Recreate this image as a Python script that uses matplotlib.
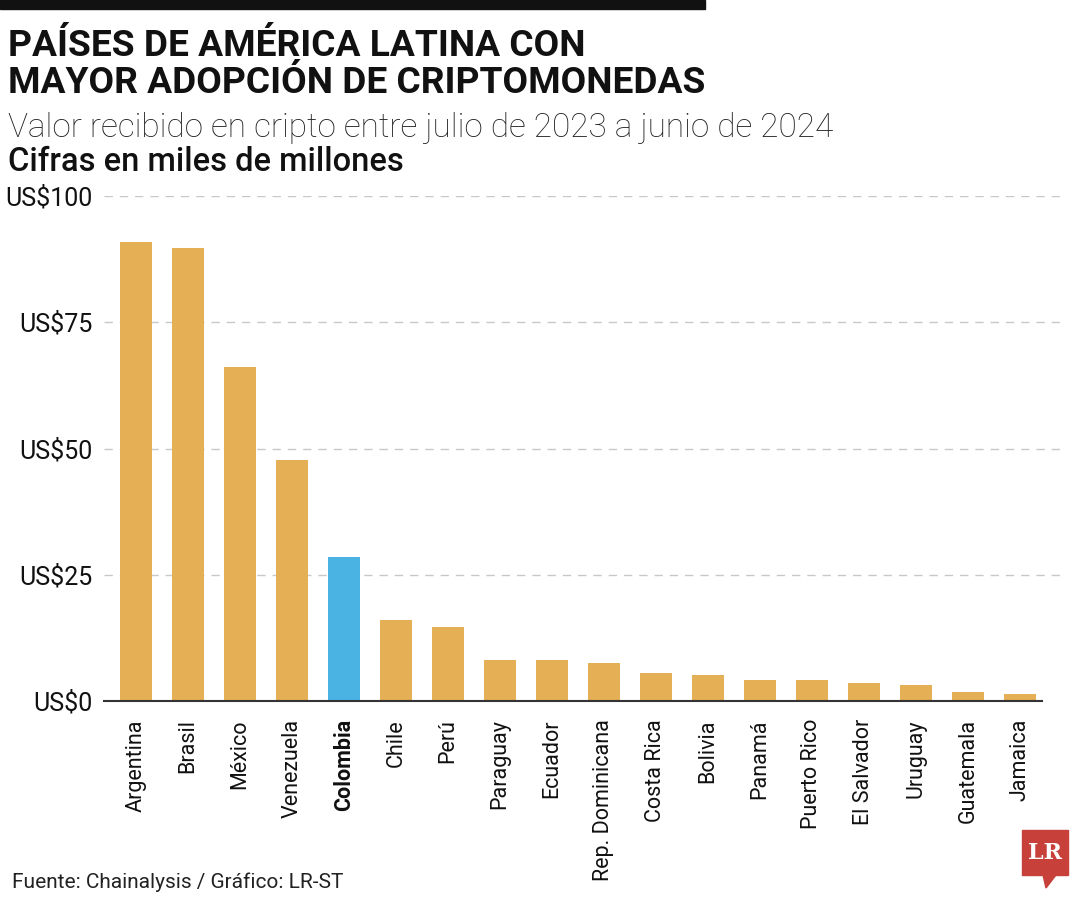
import matplotlib.pyplot as plt
from matplotlib.patches import Rectangle, Polygon

paises = ['Argentina', 'Brasil', 'México', 'Venezuela', 'Colombia', 'Chile', 'Perú',
          'Paraguay', 'Ecuador', 'Rep. Dominicana', 'Costa Rica', 'Bolivia', 'Panamá',
          'Puerto Rico', 'El Salvador', 'Uruguay', 'Guatemala', 'Jamaica']
valores = [90.8, 89.8, 66.1, 47.8, 28.6, 16.1, 14.7, 8.1, 8.1, 7.6, 5.6, 5.1, 4.2,
           4.2, 3.6, 3.2, 1.8, 1.4]
destacado = 'Colombia'
ticks = [0, 25, 50, 75, 100]
tick_labels = ['US$0', 'US$25', 'US$50', 'US$75', 'US$100']

plt.rcParams['font.family'] = ['Roboto', 'DejaVu Sans']

oro = '#E5AF55'
azul = '#4BB3E3'

fig = plt.figure(figsize=(10.8, 9), dpi=100)
ax = fig.add_axes([104 / 1080, 1 - 701 / 900, (1065 - 104) / 1080, (701 - 196) / 900])

x = list(range(len(paises)))
colores = [azul if p == destacado else oro for p in paises]
ax.bar(x, valores, width=0.62, color=colores, zorder=3)

ax.set_xlim(-0.62, 17.87)
ax.set_ylim(0, 100)
for t in ticks[1:]:
    ax.axhline(t, color='#c8c8c8', lw=1, ls=(0, (6, 5)), zorder=1)
ax.plot([-0.62, 17.42], [0, 0], color='#333333', lw=1.5, zorder=4, clip_on=False)

for s in ax.spines.values():
    s.set_visible(False)
ax.set_yticks(ticks)
ax.set_yticklabels(tick_labels, fontsize=18, color='#111111')
ax.tick_params(axis='y', length=0, pad=8)
ax.set_xticks(x)
ax.set_xticklabels(paises, rotation=90, fontsize=15.5, color='#111111')
ax.tick_params(axis='x', length=0, pad=13)
for lbl in ax.get_xticklabels():
    if lbl.get_text() == destacado:
        lbl.set_fontweight('bold')

# encabezado
fig.patches.append(Rectangle((0, 1 - 9 / 900), 705 / 1080, 9 / 900,
                             transform=fig.transFigure, color='#111111'))
fig.text(8 / 1080, 1 - 28 / 900, 'PAÍSES DE AMÉRICA LATINA CON\nMAYOR ADOPCIÓN DE CRIPTOMONEDAS',
         fontsize=26.7, fontweight='bold', va='top', ha='left', linespacing=1.05, color='#111111')
fig.text(8 / 1080, 1 - 128 / 900, 'Valor recibido en cripto entre julio de 2023 a junio de 2024',
         fontsize=24, va='center', ha='left', color='#222222', fontweight='light')
fig.text(8 / 1080, 1 - 162 / 900, 'Cifras en miles de millones',
         fontsize=23.5, va='center', ha='left', color='#111111', fontweight='medium')
fig.text(12 / 1080, 1 - 882 / 900, 'Fuente: Chainalysis / Gráfico: LR-ST',
         fontsize=15, va='center', ha='left', color='#222222')

# logo LR
rojo = '#C8403A'
fig.patches.append(Rectangle((1022 / 1080, 1 - 875 / 900), 46 / 1080, 45 / 900,
                             transform=fig.transFigure, color=rojo))
fig.patches.append(Polygon([(1043 / 1080, 1 - 875 / 900), (1056 / 1080, 1 - 875 / 900),
                            (1046 / 1080, 1 - 888 / 900)], closed=True,
                           transform=fig.transFigure, color=rojo))
fig.text(1045 / 1080, 1 - 853 / 900, 'LR', fontsize=16, fontweight='bold', color='white',
         ha='center', va='center', family=['DejaVu Serif'])

fig.savefig('out.png', dpi=100, facecolor='white')
